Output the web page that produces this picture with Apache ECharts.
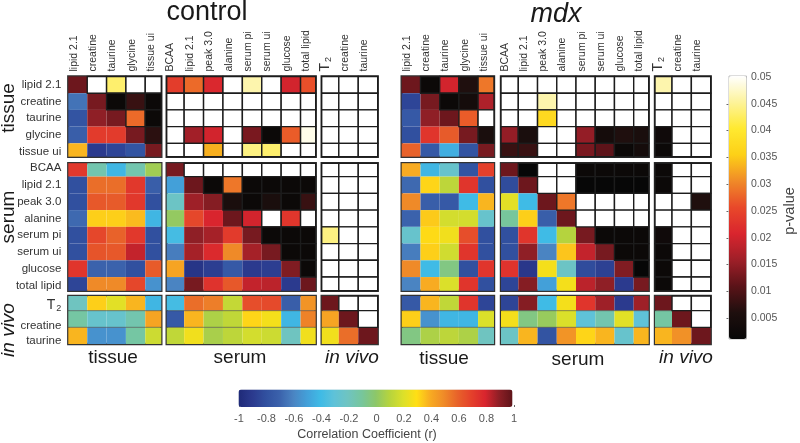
<!DOCTYPE html>
<html>
<head>
<meta charset="utf-8">
<style>html,body{margin:0;padding:0;background:#fff}#main{width:800px;height:443px}</style>
<script src="https://cdn.jsdelivr.net/npm/echarts@6/dist/echarts.min.js"></script>
</head>
<body>
<div id="main"></div>
<script>
var tissueNames = ['lipid 2.1', 'creatine', 'taurine', 'glycine', 'tissue ui'];
var serumNames = ['BCAA', 'lipid 2.1', 'peak 3.0', 'alanine', 'serum pi', 'serum ui', 'glucose', 'total lipid'];
var vivoNames = ['T2', 'creatine', 'taurine'];

// diagonal and below = r, above the diagonal = p-value (0.05 is drawn white)
var controlMatrix = [
    [.97, .05, .043, .05, .05, .024, .028, .021, .05, .046, .05, .02, .026, .05, .05, .05],
    [-.65, .95, .002, .008, .002, .05, .05, .05, .05, .05, .05, .05, .05, .05, .05, .05],
    [-.78, .9, .95, .028, .002, .05, .05, .05, .05, .05, .05, .05, .05, .05, .05, .05],
    [-.72, .72, .72, .95, .007, .05, .016, .02, .05, .013, .002, .027, .049, .05, .05, .05],
    [.38, -.9, -.85, -.78, .95, .05, .05, .033, .05, .044, .043, .05, .05, .05, .05, .05],
    [.73, -.15, -.42, -.15, .05, .95, .05, .05, .05, .05, .05, .05, .05, .05, .05, .05],
    [-.8, .57, .57, .73, -.72, -.5, .97, .002, .029, .002, .002, .002, .002, .05, .05, .05],
    [-.8, .63, .62, .73, -.8, -.22, .88, .92, .005, .002, .005, .002, .008, .05, .05, .05],
    [-.68, .33, .33, .37, -.42, .02, .68, .8, .97, .02, .05, .023, .05, .05, .05, .05],
    [-.8, .68, .6, .73, -.8, -.38, .9, .87, .72, .95, .002, .002, .002, .044, .05, .05],
    [-.8, .64, .63, .83, -.8, -.62, .87, .78, .5, .87, .95, .002, .002, .05, .05, .05],
    [.74, -.7, -.7, -.8, .62, .42, -.93, -.88, -.75, -.9, -.88, .93, .002, .05, .05, .05],
    [-.85, .5, .5, .68, -.55, -.6, .95, .75, .63, .83, .84, -.9, .97, .05, .05, .05],
    [-.2, .33, .22, .38, -.42, -.38, .57, .53, .14, .66, .67, -.72, .47, .97, .05, .05],
    [-.12, -.25, -.25, -.15, .42, -.75, .38, .08, .13, .32, .27, -.42, .52, .42, .97, .05],
    [.38, -.55, -.55, -.12, .16, .13, .26, .07, .12, .18, .16, -.2, .26, .26, .57, .97]
];
var mdxMatrix = [
    [.97, .002, .02, .006, .029, .05, .05, .05, .05, .05, .05, .05, .05, .046, .05, .05],
    [-.85, .95, .002, .004, .017, .05, .05, .046, .05, .05, .05, .05, .05, .05, .05, .05],
    [-.75, .9, .97, .027, .05, .05, .05, .037, .05, .05, .05, .05, .05, .05, .05, .05],
    [-.8, .74, .62, .95, .005, .015, .005, .05, .05, .015, .004, .006, .005, .003, .05, .05],
    [.6, -.75, -.45, -.78, .95, .008, .008, .05, .05, .013, .011, .002, .004, .002, .05, .05],
    [.4, -.42, -.25, -.78, .7, .97, .001, .05, .05, .002, .002, .002, .002, .002, .05, .05],
    [-.68, .32, .12, .74, -.8, -.82, .97, .05, .05, .001, .001, .001, .001, .002, .05, .05],
    [.5, -.72, -.75, -.4, .38, .22, -.4, .97, .029, .05, .05, .05, .05, .05, .05, .006],
    [-.7, .34, .18, .18, -.25, -.1, .33, -.72, .97, .05, .05, .05, .05, .05, .05, .05],
    [-.25, .31, .26, .66, -.8, -.8, .74, -.4, .1, .95, .002, .002, .002, .003, .05, .05],
    [-.62, .33, .17, .74, -.8, -.8, .9, -.6, .35, .83, .95, .002, .002, .002, .05, .05],
    [.5, -.4, -.05, -.8, .74, .75, -.92, .27, -.22, -.82, -.87, .93, .001, .002, .05, .05],
    [-.6, .4, .2, .74, -.8, -.85, .92, -.5, .27, .84, .9, -.9, .95, .002, .05, .05],
    [-.75, .38, .13, .74, -.85, -.85, .92, -.4, .27, .74, .88, -.9, .88, .97, .05, .05],
    [.33, -.55, -.42, -.42, .2, .27, -.05, .03, .2, -.3, -.15, .22, -.3, -.12, .97, .05],
    [-.05, .08, .12, .08, -.2, -.22, .38, -.78, .47, .32, .38, -.25, .38, .38, .48, .97]
];

var rColors = ['#1f2a78', '#2b3a8e', '#31509f', '#3b62ac', '#4a84c2', '#43a0d9', '#3fbbe6', '#5fc2d8', '#6fc4c0', '#77c69c',
    '#8cc76a', '#b5d33e', '#dbe02a', '#ffdf15', '#f8ab22', '#ef8a28', '#e8622a', '#e4402b', '#d9252e', '#8f1f26', '#5e1419'];
var pColors = ['#070707', '#1e0f0e', '#5a1318', '#9e1f28', '#d9252e', '#e8482a', '#f08a28', '#fdd017', '#ffe930', '#fdf39a', '#ffffff'];
var rTicks = [-1, -0.8, -0.6, -0.4, -0.2, 0, 0.2, 0.4, 0.6, 0.8, 1];
var pTicks = [0.005, 0.01, 0.015, 0.02, 0.025, 0.03, 0.035, 0.04, 0.045, 0.05];

// block sizes on the page; the outer cells are cut off by the frame as in the original
var xBlocks = [
    {names: tissueNames, start: 0, min: -0.48, max: 4.33},
    {names: serumNames, start: 5, min: -0.4, max: 7.28},
    {names: vivoNames, start: 13, min: -0.38, max: 2.5}
];
var yBlocks = [
    {names: tissueNames, start: 0, min: -0.5, max: 4.3, top: 76.5, bottom: 156.7},
    {names: serumNames, start: 5, min: -0.3, max: 7.32, top: 163.2, bottom: 290.8},
    {names: vivoNames, start: 13, min: -0.38, max: 2.5, top: 296, bottom: 344, labelShift: [0.18, 0.4, 0.33]}
];
var panels = [
    {matrix: controlMatrix, yLabels: true, x: [[68.3, 161.3], [166.7, 315.7], [321.7, 377.7]]},
    {matrix: mdxMatrix, yLabels: false, x: [[401.7, 494], [501, 648.7], [655, 710.7]]}
];

var labelRich = {
    t: {fontFamily: 'Liberation Sans', fontSize: 14, color: '#333'},
    s: {fontFamily: 'Liberation Sans', fontSize: 9, color: '#333', padding: [7, 0, 0, 1]}
};
function labelText(name) {
    return name === 'T2' ? '{t|T}{s|2}' : name;
}

function cellShape(params, api) {
    var c = api.value(0), r = api.value(1);
    var a = api.coord([c - 0.5, r - 0.5]);
    var b = api.coord([c + 0.5, r + 0.5]);
    return echarts.graphic.clipRectByRect(
        {x: a[0], y: a[1], width: b[0] - a[0], height: b[1] - a[1]},
        {x: params.coordSys.x, y: params.coordSys.y, width: params.coordSys.width, height: params.coordSys.height}
    );
}
function renderR(params, api) {
    var shape = cellShape(params, api);
    if (!shape) return;
    var kids = [{type: 'rect', shape: shape, style: {fill: api.visual('color')}}];
    // in vivo rows keep a thin rule between them
    if (api.value(3)) {
        kids.push({type: 'line', z2: 5, shape: {x1: shape.x, y1: shape.y, x2: shape.x + shape.width, y2: shape.y},
            style: {stroke: '#333', lineWidth: 0.8, opacity: 0.7}});
    }
    return {type: 'group', children: kids};
}
function renderP(params, api) {
    var shape = cellShape(params, api);
    if (!shape) return;
    return {type: 'rect', shape: shape, style: {fill: api.visual('color'), stroke: '#1c1c1c', lineWidth: 1.4}};
}

var grids = [], xAxes = [], yAxes = [], series = [], rSeries = [], pSeries = [];
panels.forEach(function(panel) {
    yBlocks.forEach(function(yb, yi) {
        xBlocks.forEach(function(xb, xi) {
            var idx = grids.length;
            var pos = panel.x[xi];
            grids.push({
                left: pos[0], width: pos[1] - pos[0], top: yb.top, height: yb.bottom - yb.top,
                show: true, backgroundColor: '#fff', borderColor: '#333', borderWidth: 2.4
            });
            xAxes.push({
                gridIndex: idx, type: 'value', position: 'top', min: xb.min, max: xb.max,
                axisLine: {show: false}, axisTick: {show: false}, splitLine: {show: false},
                axisLabel: {
                    show: yi === 0, rotate: 90, margin: 5, fontFamily: 'Liberation Sans', fontSize: 10.5, color: '#333',
                    customValues: xb.names.map(function(n, i) { return i - 0.2; }),
                    formatter: function(v) { return labelText(xb.names[Math.round(v + 0.2)]); },
                    rich: labelRich
                }
            });
            yAxes.push({
                gridIndex: idx, type: 'value', inverse: true, min: yb.min, max: yb.max,
                axisLine: {show: false}, axisTick: {show: false}, splitLine: {show: false},
                axisLabel: {
                    show: panel.yLabels && xi === 0, margin: 7, fontFamily: 'Liberation Sans', fontSize: 11.5, color: '#333',
                    customValues: yb.names.map(function(n, i) { return i + (yb.labelShift ? yb.labelShift[i] : 0); }),
                    formatter: function(v) { return labelText(yb.names[Math.floor(v + 0.001)]); },
                    rich: labelRich
                }
            });
            var rData = [], pData = [];
            yb.names.forEach(function(rn, r) {
                xb.names.forEach(function(cn, c) {
                    var rr = yb.start + r, cc = xb.start + c;
                    var v = panel.matrix[rr][cc];
                    if (cc <= rr) {
                        rData.push([c, r, v, yi === 2 && r > 0 ? 1 : 0]);
                    } else {
                        pData.push([c, r, v]);
                    }
                });
            });
            if (rData.length) {
                rSeries.push(series.length);
                series.push({type: 'custom', xAxisIndex: idx, yAxisIndex: idx, renderItem: renderR, data: rData,
                    encode: {x: 0, y: 1}, silent: true});
            }
            if (pData.length) {
                pSeries.push(series.length);
                series.push({type: 'custom', xAxisIndex: idx, yAxisIndex: idx, z: 3, renderItem: renderP, data: pData,
                    encode: {x: 0, y: 1}, silent: true});
            }
        });
    });
});

// axes of the two colour bars
var rBar = grids.length;
grids.push({left: 239, width: 275, top: 389.5, height: 17.5});
xAxes.push({
    gridIndex: rBar, type: 'value', min: -1, max: 1, interval: 0.2,
    axisLine: {show: false}, splitLine: {show: false},
    axisTick: {inside: true, length: 2, lineStyle: {color: '#666'}},
    axisLabel: {margin: 6, fontFamily: 'Liberation Sans', fontSize: 11, color: '#555',
        customValues: rTicks, formatter: function(v) { return String(+v.toFixed(1)); }}
});
yAxes.push({gridIndex: rBar, type: 'value', min: 0, max: 1, show: false});

var pBar = grids.length;
grids.push({left: 728.5, width: 17.5, top: 77, height: 268});
xAxes.push({gridIndex: pBar, type: 'value', min: 0, max: 1, show: false});
yAxes.push({
    gridIndex: pBar, type: 'value', position: 'right', min: 0, max: 0.05, interval: 0.005,
    axisLine: {show: false}, splitLine: {show: false},
    axisTick: {inside: true, length: 2, lineStyle: {color: '#666'}, customValues: pTicks.slice(0, 9)},
    axisLabel: {margin: 5, fontFamily: 'Liberation Sans', fontSize: 10.5, color: '#555', customValues: pTicks,
        formatter: function(v) { return String(+v.toFixed(3)); }},
    name: 'p-value', nameLocation: 'middle', nameRotate: 90, nameGap: 36,
    nameTextStyle: {fontFamily: 'Liberation Sans', fontSize: 14.5, color: '#444'}
});

function bigText(x, y, text, size, italic, rotation) {
    return {
        type: 'text', x: x, y: y, rotation: rotation || 0, z: 10,
        style: {text: text, fontFamily: 'Liberation Sans', fontSize: size, fontStyle: italic ? 'italic' : 'normal',
            fill: '#1a1a1a', align: 'center', verticalAlign: 'middle'}
    };
}
var upright = Math.PI / 2;

var option = {
    animation: false,
    backgroundColor: '#fff',
    grid: grids,
    xAxis: xAxes,
    yAxis: yAxes,
    series: series,
    visualMap: [{
        type: 'continuous', seriesIndex: rSeries, dimension: 2, min: -1, max: 1,
        orient: 'horizontal', left: 238.5, top: 389.5, itemWidth: 17.5, itemHeight: 274, padding: 0,
        calculable: false, text: null, showLabel: false, inRange: {color: rColors},
        borderColor: '#aaa', borderWidth: 0
    }, {
        type: 'continuous', seriesIndex: pSeries, dimension: 2, min: 0.001, max: 0.05,
        orient: 'vertical', left: 728.5, top: 75.5, itemWidth: 17.5, itemHeight: 263, padding: 0,
        calculable: false, text: null, inRange: {color: pColors},
        borderColor: '#bbb', borderWidth: 1
    }],
    graphic: [
        bigText(207, 13, 'control', 27),
        bigText(556, 14, 'mdx', 27, true),
        bigText(9, 108, 'tissue', 19, false, upright),
        bigText(9, 217, 'serum', 19, false, upright),
        bigText(9, 330, 'in vivo', 19, true, upright),
        bigText(113, 358, 'tissue', 19),
        bigText(240, 358, 'serum', 19),
        bigText(352, 358, 'in vivo', 19, true),
        bigText(444, 359, 'tissue', 19),
        bigText(578, 360, 'serum', 19),
        bigText(686, 358, 'in vivo', 19, true),
        {type: 'text', x: 367, y: 435, z: 10, style: {text: 'Correlation Coefficient (r)', fontFamily: 'Liberation Sans',
            fontSize: 12.5, fill: '#444', align: 'center', verticalAlign: 'middle'}}
    ]
};

var myChart = echarts.init(document.getElementById('main'), null, {renderer: 'canvas'});
myChart.setOption(option);
</script>
</body>
</html>
